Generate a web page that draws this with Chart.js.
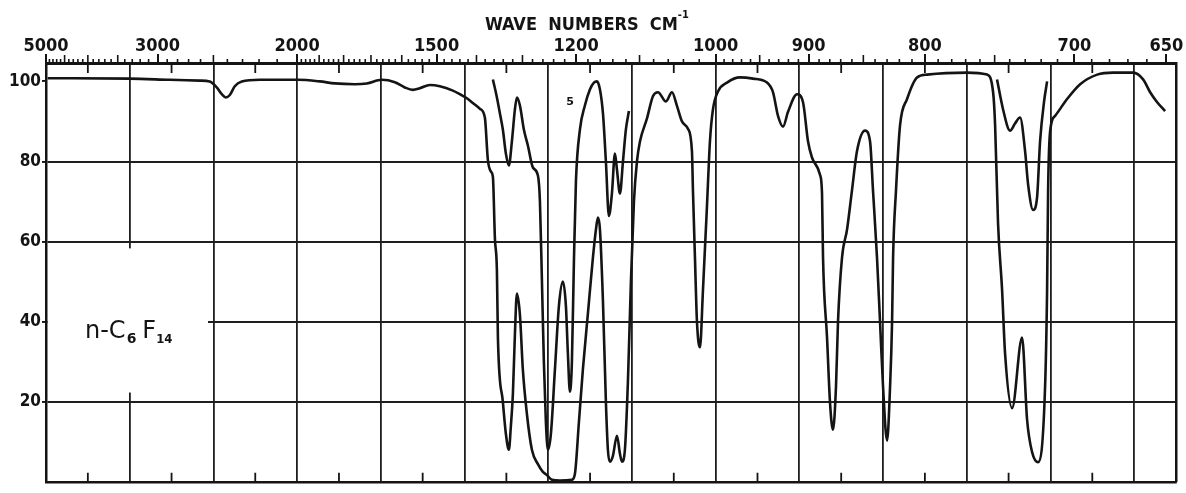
<!DOCTYPE html>
<html>
<head>
<meta charset="utf-8">
<title>n-C6F14 infrared spectrum</title>
<script src="https://cdn.jsdelivr.net/npm/chart.js@4.4.1/dist/chart.umd.min.js"></script>
<style>
  html, body { margin: 0; padding: 0; background: #fff; }
  #wrap { width: 1186px; height: 493px; }
</style>
</head>
<body>
<div id="wrap"><canvas id="spectrum" width="1186" height="493"></canvas></div>
<script>
// Wavelength axis (microns) runs linearly; wave numbers are labelled along the top.
const topWaveNumbers = [5000, 3000, 2000, 1500, 1200, 1000, 900, 800, 700, 650];
const transmittanceTicks = [20, 40, 60, 80, 100];
const micronGrid = [3, 4, 5, 6, 7, 8, 9, 10, 11, 12, 13, 14, 15];

// Main (thick cell) trace: wavelength in microns, percent transmittance
const mainWavelength = [
  2.020, 3.000, 3.478, 3.837, 3.956, 4.040, 4.100, 4.148, 4.196, 4.255,
  4.339, 4.554, 5.008, 5.271, 5.450, 5.690, 5.833, 6.012, 6.168, 6.287,
  6.383, 6.466, 6.586, 6.705, 6.861, 6.944, 7.028, 7.100, 7.183, 7.243,
  7.279, 7.315, 7.339, 7.363, 7.387, 7.399, 7.458, 7.494, 7.530, 7.554,
  7.578, 7.602, 7.626, 7.662, 7.697, 7.745, 7.805, 7.877, 7.936, 7.984,
  8.044, 8.140, 8.283, 8.319, 8.367, 8.414, 8.474, 8.534, 8.570, 8.594,
  8.618, 8.654, 8.689, 8.713, 8.737, 8.773, 8.821, 8.857, 8.881, 8.916,
  8.952, 8.988, 9.024, 9.060, 9.096, 9.179, 9.251, 9.311, 9.407, 9.478,
  9.538, 9.598, 9.669, 9.717, 9.729, 9.753, 9.777, 9.813, 9.849, 9.896,
  9.932, 9.968, 10.028, 10.136, 10.291, 10.446, 10.614, 10.685, 10.745, 10.805,
  10.865, 10.972, 11.044, 11.104, 11.151, 11.247, 11.271, 11.283, 11.331, 11.367,
  11.402, 11.438, 11.462, 11.510, 11.570, 11.629, 11.689, 11.785, 11.845, 11.880,
  11.928, 11.964, 12.000, 12.048, 12.084, 12.108, 12.120, 12.155, 12.203, 12.287,
  12.406, 12.526, 13.004, 13.243, 13.315, 13.339, 13.374, 13.422, 13.458, 13.542,
  13.661, 13.721, 13.781, 13.852, 13.936, 13.960, 13.972, 13.996, 14.056, 14.199,
  14.355, 14.558, 14.749, 14.988, 15.107, 15.191, 15.275, 15.370
];
const mainTransmittance = [
  100.8, 100.7, 100.4, 100.2, 100.0, 98.5, 96.8, 96.0, 96.6, 98.8,
  100.0, 100.4, 100.4, 100.0, 99.5, 99.3, 99.5, 100.4, 99.8, 98.5,
  97.9, 98.3, 99.1, 98.8, 97.7, 96.8, 95.8, 94.6, 93.2, 91.0,
  80.4, 77.5, 76.2, 60.8, 52.7, 36.0, 20.0, 12.0, 8.0, 14.0,
  22.0, 36.8, 47.0, 41.7, 28.0, 17.0, 8.0, 4.4, 2.5, 1.7,
  0.5, 0.3, 0.5, 2.0, 15.0, 28.0, 42.0, 56.0, 63.0, 66.0,
  63.0, 45.0, 20.0, 8.0, 5.0, 6.5, 11.5, 7.0, 5.0, 8.0,
  25.0, 50.0, 70.0, 80.0, 85.0, 90.7, 96.3, 97.3, 95.0, 97.3,
  93.9, 90.0, 88.2, 82.6, 72.8, 56.0, 40.0, 33.6, 48.0, 68.6,
  85.0, 93.0, 97.5, 99.7, 101.0, 100.7, 99.7, 97.3, 91.4, 88.7,
  92.4, 96.8, 94.8, 85.0, 81.0, 76.7, 72.0, 56.0, 36.0, 19.6,
  13.0, 23.8, 40.0, 56.0, 63.0, 72.8, 82.6, 87.7, 85.0, 72.8,
  56.0, 40.0, 23.8, 10.3, 23.8, 40.0, 56.0, 72.8, 89.0, 95.6,
  101.0, 101.7, 102.2, 101.7, 97.3, 89.0, 64.5, 48.0, 32.0, 18.4,
  36.0, 15.5, 7.4, 4.9, 23.8, 48.0, 72.8, 87.5, 91.4, 95.6,
  99.3, 101.7, 102.2, 102.2, 100.5, 97.3, 94.8, 92.6
];

// Thin cell trace over the strong C-F bands
const thinWavelength = [
  7.339, 7.387, 7.423, 7.458, 7.494, 7.530, 7.566, 7.602, 7.626, 7.662,
  7.709, 7.757, 7.817, 7.877, 7.901, 7.925, 7.948, 7.972, 7.996, 8.032,
  8.080, 8.128, 8.175, 8.211, 8.235, 8.259, 8.283, 8.307, 8.331, 8.379,
  8.438, 8.498, 8.546, 8.582, 8.618, 8.654, 8.689, 8.725, 8.761, 8.797,
  8.821, 8.857, 8.893, 8.928, 8.964
];
const thinTransmittance = [
  100.5, 96.0, 92.0, 88.0, 82.0, 79.0, 85.0, 93.0, 96.0, 94.0,
  88.0, 84.0, 78.5, 76.5, 70.0, 50.0, 30.0, 15.0, 8.0, 12.0,
  28.0, 44.0, 50.0, 44.0, 32.0, 22.5, 30.0, 55.0, 75.0, 88.0,
  94.0, 98.0, 99.7, 100.0, 98.0, 92.0, 80.0, 66.4, 72.0, 82.0,
  78.0, 72.0, 80.0, 88.0, 92.6
];

// Thin cell trace over the long-wavelength doublet
const thin2Wavelength = [
  13.362, 13.434, 13.518, 13.577, 13.637, 13.697, 13.733, 13.793, 13.840, 13.876,
  13.924, 13.960
];
const thin2Transmittance = [
  100.5, 93.0, 87.7, 89.5, 91.0, 82.6, 74.3, 67.9, 71.0, 85.0,
  95.0, 100.0
];

const INK = '#141414';
const GRID = '#1e1e1e';

function toPoints(xs, ys) {
  return xs.map((x, i) => ({ x: x, y: ys[i] }));
}

function traceDataset(xs, ys) {
  return {
    data: toPoints(xs, ys),
    borderColor: INK,
    borderWidth: 2.6,
    pointRadius: 0,
    fill: false,
    cubicInterpolationMode: 'monotone'
  };
}

// Dense wave-number ruler along the top edge
const rulerSections = [[5000, 2000, 100], [2000, 1000, 20], [1000, 650, 10]];

const chartDecor = {
  id: 'chartDecor',
  beforeDatasetsDraw(chart) {
    const c = chart.ctx;
    const x = chart.scales.x;
    const y = chart.scales.y;
    // blank panel behind the compound name
    c.save();
    c.fillStyle = '#fff';
    c.fillRect(x.left + 2, y.getPixelForValue(58.3), 208 - x.left - 2, y.getPixelForValue(22.3) - y.getPixelForValue(58.3));
    // compound name n-C6F14
    c.fillStyle = INK;
    c.textBaseline = 'alphabetic';
    c.textAlign = 'left';
    let px = 85;
    const base = 338;
    c.font = '24px "DejaVu Sans", sans-serif';
    c.fillText('n-C', px, base);
    px += c.measureText('n-C').width + 1;
    c.font = 'bold 14px "DejaVu Sans", sans-serif';
    c.fillText('6', px, base + 5);
    px += c.measureText('6').width + 6;
    c.font = '24px "DejaVu Sans", sans-serif';
    c.fillText('F', px, base);
    px += c.measureText('F').width;
    c.font = 'bold 13px "DejaVu Sans Condensed", "DejaVu Sans", sans-serif';
    c.fillText('14', px, base + 5);
    // small trace mark near 1200
    c.font = 'bold 11px "DejaVu Sans", sans-serif';
    c.textAlign = 'center';
    c.textBaseline = 'middle';
    c.fillText('5', 570, 102);
    c.restore();
  },
  afterDraw(chart) {
    const c = chart.ctx;
    const x = chart.scales.x;
    const area = chart.chartArea;
    c.save();
    c.strokeStyle = INK;
    c.lineWidth = 1.6;
    // ruler ticks above the frame
    rulerSections.forEach(([from, to, step]) => {
      for (let wn = from; wn >= to; wn -= step) {
        if (topWaveNumbers.includes(wn)) continue;
        let len = 4;
        if (step === 100 && wn % 500 === 0) len = 8;
        else if (step === 20 && wn % 100 === 0) len = 8;
        else if (step === 10 && wn % 50 === 0) len = 8;
        const px = x.getPixelForValue(1e4 / wn);
        c.beginPath();
        c.moveTo(px, area.top);
        c.lineTo(px, area.top - len);
        c.stroke();
      }
    });
    // half-micron marks hanging inside the frame
    c.lineWidth = 1.8;
    for (let um = 2.5; um < 15.5; um += 1) {
      const px = x.getPixelForValue(um);
      c.beginPath();
      c.moveTo(px, area.top);
      c.lineTo(px, area.top + 10);
      c.moveTo(px, area.bottom);
      c.lineTo(px, area.bottom - 9);
      c.stroke();
    }
    // axis caption
    c.fillStyle = INK;
    c.textAlign = 'left';
    c.textBaseline = 'middle';
    c.font = 'bold 18px "DejaVu Sans Condensed", "DejaVu Sans", sans-serif';
    const cap = 'WAVE  NUMBERS  CM';
    c.fillText(cap, 485, 25);
    const w = c.measureText(cap).width;
    c.font = 'bold 11px "DejaVu Sans Condensed", "DejaVu Sans", sans-serif';
    c.fillText('-1', 485 + w, 15);
    c.restore();
  }
};

const labelFont = { family: '"DejaVu Sans Condensed", "DejaVu Sans", sans-serif', size: 17, weight: 'bold' };

new Chart(document.getElementById('spectrum'), {
  type: 'line',
  data: {
    datasets: [
      traceDataset(mainWavelength, mainTransmittance),
      traceDataset(thinWavelength, thinTransmittance),
      traceDataset(thin2Wavelength, thin2Transmittance)
    ]
  },
  options: {
    responsive: false,
    animation: false,
    devicePixelRatio: 1,
    layout: { padding: { left: 0, right: 10, top: 0, bottom: 3 } },
    plugins: { legend: { display: false }, tooltip: { enabled: false } },
    scales: {
      x: {
        type: 'linear',
        position: 'bottom',
        min: 2,
        max: 15.5,
        afterBuildTicks: s => { s.ticks = micronGrid.map(v => ({ value: v })); },
        afterFit: s => { s.height = 0; },
        ticks: { display: false },
        grid: { color: GRID, lineWidth: 1.8, drawTicks: false },
        border: { display: true, color: INK, width: 2.5 }
      },
      x2: {
        type: 'linear',
        position: 'top',
        min: 2,
        max: 15.5,
        afterBuildTicks: s => { s.ticks = topWaveNumbers.map(wn => ({ value: 1e4 / wn })); },
        afterFit: s => { s.height = 63; },
        ticks: {
          autoSkip: false,
          maxRotation: 0,
          padding: -3,
          color: INK,
          font: { family: '"DejaVu Sans Condensed", "DejaVu Sans", sans-serif', size: 18, weight: 'bold' },
          callback: (v, i) => String(topWaveNumbers[i])
        },
        grid: { drawOnChartArea: false, tickLength: 9, color: INK, lineWidth: 2 },
        border: { display: true, color: INK, width: 3 }
      },
      y: {
        min: 0,
        max: 104.6,
        afterBuildTicks: s => { s.ticks = transmittanceTicks.map(v => ({ value: v })); },
        afterFit: s => { s.width = 46; },
        ticks: { color: INK, font: labelFont, padding: 1 },
        grid: {
          color: ctx => (ctx.tick && ctx.tick.value === 100) ? 'rgba(0,0,0,0)' : GRID,
          tickColor: INK,
          lineWidth: 1.9,
          tickLength: 4
        },
        border: { display: true, color: INK, width: 2.5 }
      },
      y2: {
        position: 'right',
        min: 0,
        max: 104.6,
        afterFit: s => { s.width = 0; },
        ticks: { display: false },
        grid: { drawOnChartArea: false, drawTicks: false },
        border: { display: true, color: INK, width: 2.5 }
      }
    }
  },
  plugins: [chartDecor]
});
</script>
</body>
</html>
